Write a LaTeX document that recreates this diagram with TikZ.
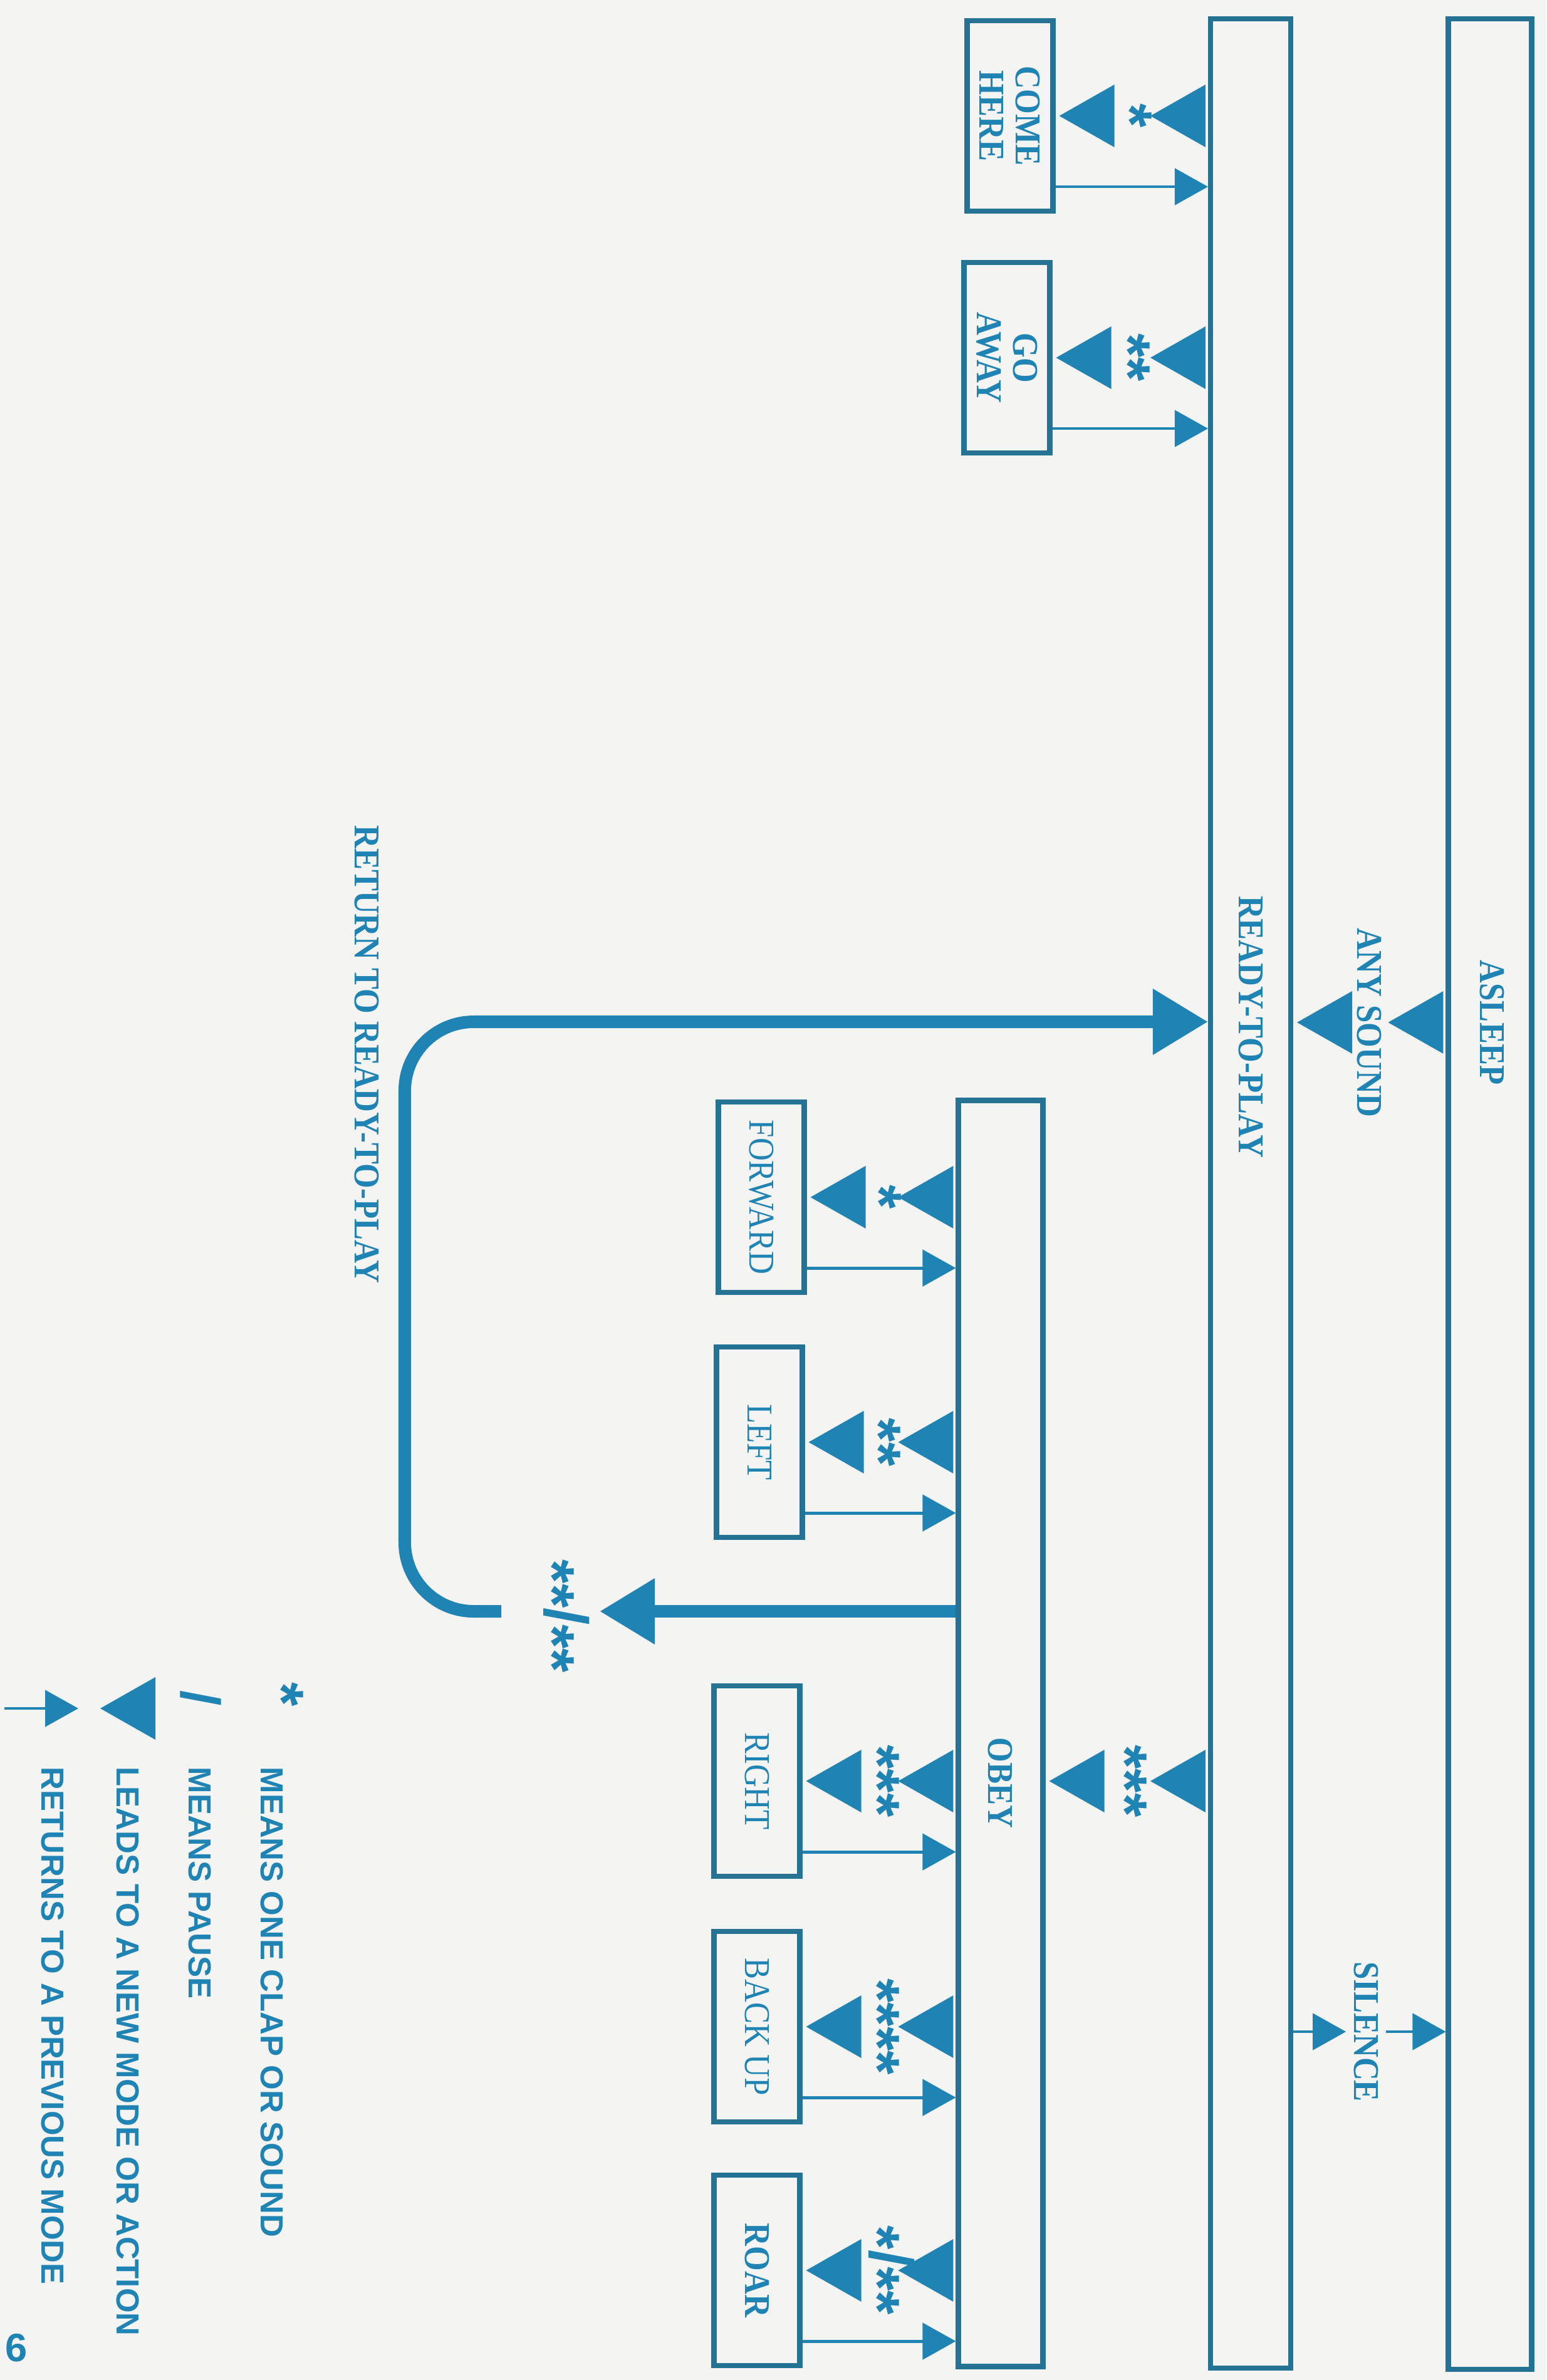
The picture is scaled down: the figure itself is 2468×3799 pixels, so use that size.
\documentclass[tikz,border=0pt]{standalone}
\usepackage{fontspec}
\newfontfamily\modefont{Liberation Serif}[FakeStretch=0.88]
\newfontfamily\keyfont{Liberation Sans}
\usepackage{xcolor}
\definecolor{toyblue}{RGB}{31,132,180}
\definecolor{toyline}{RGB}{36,114,148}
\definecolor{paper}{RGB}{244,244,243}
\usepackage{tikz}
\usetikzlibrary{calc}
\usetikzlibrary{arrows.meta}
\newcommand{\Leads}[5][clap]{
\coordinate (s) at (#2.west |- #4);
\coordinate (t) at (#3.east |- #4);
\fill[toyblue] ($(s)+(-4,-50)$) -- ($(s)+(-4,50)$) -- ($(s)+(-92,0)$) --cycle;
\fill[toyblue] ($(t)+(6,0)$) -- ($(t)+(94,-50)$) -- ($(t)+(94,50)$) --cycle;
\node[#1] at ($(s)!0.5!(t)$) {#5};}
\newcommand{\Back}[2]{
\coordinate (r) at ($(#1.south east)+(0,-43)$);
\draw[back] (r) -- (#2.west |- r);}

\begin{document}
\begin{tikzpicture}[x=0.1mm,y=-0.1mm]
	\tikzstyle{bar}=[draw=toyline,line width=2.3pt,inner sep=0pt];
	\tikzstyle{box}=[draw=toyline,line width=2.3pt,inner sep=0pt,minimum width=13.7mm,minimum height=30.4mm];
	\tikzstyle{mode}=[text=toyblue,font=\modefont\bfseries\fontsize{16.5}{16.5}\selectfont,rotate=-90,align=center];
	\tikzstyle{act}=[mode,font=\modefont\fontsize{16.5}{16.5}\selectfont];
	\tikzstyle{clap}=[text=toyblue,font=\keyfont\bfseries\fontsize{28}{28}\selectfont,inner sep=0pt,xshift=-3.6mm,rotate=-90,anchor=base];
	\tikzstyle{key}=[text=toyblue,font=\keyfont\bfseries\fontsize{14.5}{14.5}\selectfont,inner sep=0pt,rotate=-90,anchor=west];
	\tikzstyle{back}=[draw=toyblue,line width=1.4pt,-{Triangle[length=5.3mm,width=5.8mm]}];
	\tikzstyle{ret}=[draw=toyblue,line width=5.7pt,-{Triangle[length=8.8mm,width=10mm]}];
	%%
	\fill[paper] (0,0) rectangle (2468,3799);
	\useasboundingbox (0,0) rectangle (2468,3799);
	%%
	\node[bar,minimum width=13.3mm,minimum height=375.2mm] (asleep) at (2378,1906) {};
	\node[bar,minimum width=12.8mm,minimum height=375mm]   (ready)  at (1996,1905) {};
	\node[bar,minimum width=13.5mm,minimum height=202.1mm] (obey)   at (1597,2767) {};
	\node[mode] (asleeptxt) at (2381,1632) {ASLEEP};
	\node[mode] (readytxt)  at (1996,1639) {READY-TO-PLAY};
	\node[mode] (obeytxt)   at (1596,2846) {OBEY};
	%%
	\node[box] (comehere) at (1612,185)  {};
	\node[box] (goaway)   at (1607,571)  {};
	\node[box] (forward)  at (1215,1911) {};
	\node[box] (left)     at (1212,2302) {};
	\node[box] (right)    at (1208,2843) {};
	\node[box] (backup)   at (1208,3235) {};
	\node[box] (roar)     at (1208,3624) {};
	\node[mode] at (comehere) {COME\\HERE};
	\node[mode] at (goaway)   {GO\\AWAY};
	\node[act]  at (forward)  {FORWARD};
	\node[act]  at (left)     {LEFT};
	\node[act]  at (right)    {RIGHT};
	\node[act]  at (backup)   {BACK UP};
	\node[mode] at (roar)     {ROAR};
	%%
	\Leads[mode]{asleep}{ready}{asleeptxt}{ANY SOUND}
	\Leads{ready}{comehere}{comehere}{*}
	\Leads{ready}{goaway}{goaway}{**}
	\Leads{ready}{obey}{right}{***}
	\Leads{obey}{forward}{forward}{*}
	\Leads{obey}{left}{left}{**}
	\Leads{obey}{right}{right}{***}
	\Leads{obey}{backup}{backup}{****}
	\Leads{obey}{roar}{roar}{*\raisebox{.22em}{/}**}
	%%
	\Back{comehere}{ready}
	\Back{goaway}{ready}
	\Back{forward}{obey}
	\Back{left}{obey}
	\Back{right}{obey}
	\Back{backup}{obey}
	\Back{roar}{obey}
	%%
	\node[mode] (silence) at (2180,3243) {SILENCE};
	\draw[back] (ready.east |- silence) -- (silence.south);
	\draw[back] (silence.north) -- (asleep.west |- silence);
	%%
	\coordinate (tip)  at (957,2572);
	\coordinate (loop) at (800,2572);
	\coordinate (c1)   at (646,2572);
	\coordinate (c2)   at (646,1631);
	\draw[ret] (obey.west |- tip) -- (tip);
	\node[clap] (pause) at (884,2580) {**\raisebox{.22em}{/}**};
	\draw[ret,rounded corners=11mm] (loop) -- (c1) -- (c2) -- (ready.west |- c2);
	\node[mode] (retxt) at (585,1683) {RETURN TO READY-TO-PLAY};
	%%
	\node[clap] (keyclap) at (452,2705) {*};
	\node[key] at (434,2820) {MEANS ONE CLAP OR SOUND};
	\node[text=toyblue,font=\keyfont\bfseries\fontsize{25}{25}\selectfont,inner sep=0pt,rotate=-90] (keypause) at (320,2711) {/};
	\node[key] at (319,2820) {MEANS PAUSE};
	\fill[toyblue] (160,2727) -- (248,2677) -- (248,2777) --cycle;
	\node[key] at (204,2820) {LEADS TO A NEW MODE OR ACTION};
	\coordinate (k1) at (7,2727);
	\coordinate (k2) at (125,2727);
	\draw[back] (k1) -- (k2);
	\node[key] at (84,2820) {RETURNS TO A PREVIOUS MODE};
	\node[text=toyblue,font=\keyfont\bfseries\fontsize{18}{18}\selectfont,inner sep=0pt,anchor=west] (page) at (8,3748) {6};
\end{tikzpicture}
\end{document}
